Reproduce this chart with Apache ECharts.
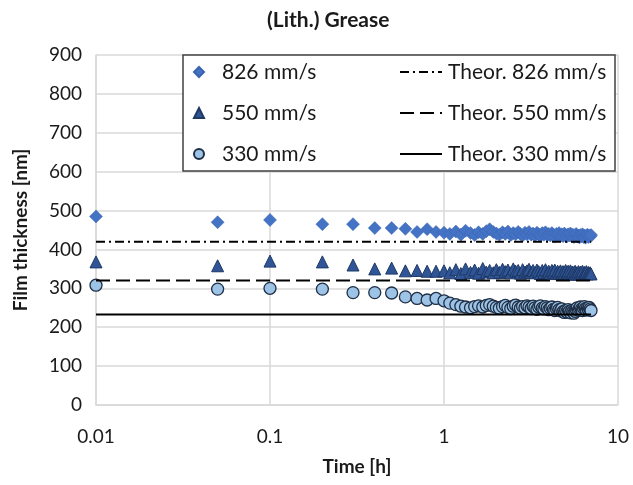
<!DOCTYPE html>
<html>
<head>
<meta charset="utf-8">
<script src="https://cdn.jsdelivr.net/npm/echarts@6/dist/echarts.min.js"></script>
<style>
  html, body { margin: 0; padding: 0; background: #fff; }
  #chart { width: 633px; height: 485px; }
</style>
</head>
<body>
<div id="chart"></div>
<script>
// time in hours
const times = [
    0.01, 0.05, 0.1, 0.2, 0.3, 0.4, 0.5, 0.6, 0.7, 0.8, 0.9, 1.0,
    1.08, 1.17, 1.25, 1.33, 1.42, 1.5, 1.58, 1.67, 1.75, 1.83, 1.92, 2.0,
    2.08, 2.17, 2.25, 2.33, 2.42, 2.5, 2.58, 2.67, 2.75, 2.83, 2.92, 3.0,
    3.08, 3.17, 3.25, 3.33, 3.42, 3.5, 3.58, 3.67, 3.75, 3.83, 3.92, 4.0,
    4.08, 4.17, 4.25, 4.33, 4.42, 4.5, 4.58, 4.67, 4.75, 4.83, 4.92, 5.0,
    5.08, 5.17, 5.25, 5.33, 5.42, 5.5, 5.58, 5.67, 5.75, 5.83, 5.92, 6.0,
    6.08, 6.17, 6.25, 6.33, 6.42, 6.5, 6.58, 6.67, 6.75, 6.83, 6.92, 7.0
];
// film thickness [nm]
const film826 = [
    485, 470, 476, 465, 465, 455, 455, 453, 445, 452, 445, 443,
    440, 446, 438, 448, 442, 437, 444, 440, 447, 452, 445, 441,
    438, 444, 440, 446, 437, 442, 439, 445, 440, 436, 443, 439,
    445, 438, 441, 436, 443, 439, 435, 442, 438, 444, 437, 440,
    436, 442, 438, 433, 440, 437, 442, 435, 439, 434, 441, 437,
    433, 439, 436, 441, 434, 438, 432, 437, 440, 433, 436, 431,
    437, 434, 439, 432, 436, 430, 435, 438, 432, 436, 433, 437
];
const film550 = [
    368, 358, 370, 368, 360, 350, 352, 345, 346, 344, 344, 345,
    340, 348, 338, 350, 341, 347, 339, 351, 342, 346, 340, 348,
    341, 349, 343, 347, 340, 350, 344, 346, 339, 348, 342, 345,
    349, 341, 346, 340, 347, 343, 338, 346, 341, 348, 340, 344,
    339, 346, 341, 347, 338, 344, 340, 345, 337, 343, 339, 346,
    340, 344, 337, 345, 339, 342, 336, 344, 340, 338, 343, 337,
    342, 338, 344, 336, 341, 339, 343, 337, 341, 338, 340, 337
];
const film330 = [
    308, 298, 300, 298, 289, 289, 288, 278, 274, 270, 274, 268,
    262, 258, 254, 252, 250, 253, 255, 252, 256, 258, 254, 251,
    249, 253, 256, 251, 248, 254, 257, 252, 249, 253, 250, 255,
    252, 248, 254, 250, 246, 252, 255, 249, 247, 253, 250, 245,
    249, 252, 246, 243, 248, 251, 245, 242, 247, 240, 238, 243,
    239, 245, 241, 237, 243, 240, 236, 241, 246, 250, 244, 248,
    252, 247, 243, 249, 253, 248, 244, 250, 246, 251, 247, 243
];
// theoretical film thickness [nm]
const theor826 = 420;
const theor550 = 320;
const theor330 = 233;
const theorRange = [0.01, 7.0];

const font = 'Lato, "Noto Sans", sans-serif';
const txt = '#1a1a1a';

const pairs = vals => times.map((t, i) => [t, vals[i]]);
const flat = v => theorRange.map(t => [t, v]);

const chart = echarts.init(document.getElementById('chart'));

chart.setOption({
    animation: false,
    textStyle: { fontFamily: font },
    title: {
        text: '(Lith.) Grease',
        left: 262,
        top: 5,
        textStyle: { fontFamily: font, fontSize: 21, fontWeight: 'bold', color: txt }
    },
    grid: { left: 96, right: 15, top: 55, bottom: 80 },
    legend: [
        {
            orient: 'vertical',
            left: 193,
            top: 61,
            padding: 0,
            itemGap: 19,
            itemWidth: 10,
            itemHeight: 10,
            symbolKeepAspect: true,
            textStyle: { fontFamily: font, fontSize: 21, color: txt, lineHeight: 22, padding: [0, 0, 0, 13] },
            data: ['826 mm/s', '550 mm/s', '330 mm/s'],
            z: 5
        },
        {
            orient: 'vertical',
            left: 399,
            top: 61,
            padding: 0,
            itemGap: 19,
            itemWidth: 42,
            itemHeight: 10,
            itemStyle: { opacity: 0 },
            textStyle: { fontFamily: font, fontSize: 21, color: txt, lineHeight: 22, padding: [0, 0, 0, 1] },
            data: ['Theor. 826 mm/s', 'Theor. 550 mm/s', 'Theor. 330 mm/s'],
            z: 5
        }
    ],
    graphic: [{
        type: 'rect',
        z: 3,
        shape: { x: 183, y: 55, width: 432, height: 116 },
        style: { fill: '#fff', stroke: '#404040', lineWidth: 1.5 }
    }],
    xAxis: {
        type: 'log',
        logBase: 10,
        min: 0.01,
        max: 10,
        name: 'Time [h]',
        nameLocation: 'middle',
        nameGap: 52,
        nameTextStyle: { fontFamily: font, fontSize: 19, fontWeight: 'bold', color: txt },
        axisLine: { lineStyle: { color: '#d9d9d9', width: 1.5 } },
        axisTick: { show: false },
        minorTick: { show: false },
        splitLine: { show: true, lineStyle: { color: '#d9d9d9', width: 1.5 } },
        axisLabel: {
            fontFamily: font, fontSize: 19, color: txt, margin: 22,
            formatter: v => String(v)
        }
    },
    yAxis: {
        type: 'value',
        min: 0,
        max: 900,
        interval: 100,
        name: 'Film thickness [nm]',
        nameLocation: 'middle',
        nameGap: 66,
        nameTextStyle: { fontFamily: font, fontSize: 19, fontWeight: 'bold', color: txt },
        axisLine: { show: true, lineStyle: { color: '#d9d9d9', width: 1.5 } },
        axisTick: { show: false },
        splitLine: { show: true, lineStyle: { color: '#d9d9d9', width: 1.5 } },
        axisLabel: { fontFamily: font, fontSize: 19, color: txt, margin: 14 }
    },
    series: [
        {
            name: '826 mm/s',
            type: 'scatter',
            symbol: 'diamond',
            symbolSize: 13,
            itemStyle: { color: '#4472c4', borderColor: '#3a64b0', borderWidth: 0.5, opacity: 1 },
            data: pairs(film826)
        },
        {
            name: '550 mm/s',
            type: 'scatter',
            symbol: 'triangle',
            symbolSize: 12,
            itemStyle: { color: '#2f5597', borderColor: '#1f3864', borderWidth: 1, opacity: 1 },
            data: pairs(film550)
        },
        {
            name: '330 mm/s',
            type: 'scatter',
            symbol: 'circle',
            symbolSize: 12,
            itemStyle: { color: '#9dc3e6', borderColor: '#1f2f45', borderWidth: 1.3, opacity: 1 },
            data: pairs(film330)
        },
        {
            name: 'Theor. 826 mm/s',
            type: 'line',
            symbol: 'none',
            lineStyle: { color: '#000', width: 2, type: [9, 4, 2, 4] },
            itemStyle: { color: '#000' },
            data: flat(theor826)
        },
        {
            name: 'Theor. 550 mm/s',
            type: 'line',
            symbol: 'none',
            lineStyle: { color: '#000', width: 2, type: [14, 6] },
            itemStyle: { color: '#000' },
            data: flat(theor550)
        },
        {
            name: 'Theor. 330 mm/s',
            type: 'line',
            symbol: 'none',
            lineStyle: { color: '#000', width: 2, type: 'solid' },
            itemStyle: { color: '#000' },
            data: flat(theor330)
        }
    ]
});
</script>
</body>
</html>
